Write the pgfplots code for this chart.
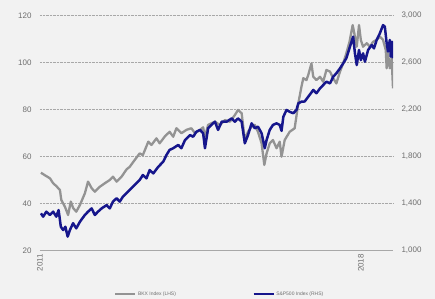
\documentclass[border=0pt]{standalone}
\usepackage{pgfplots}
\pgfplotsset{compat=1.18}
\usepackage{pgfplotstable}
\usepackage{fontspec}
\setmainfont{Liberation Sans}
\definecolor{bg}{HTML}{F2F2F2}
\definecolor{bkxc}{HTML}{939393}
\definecolor{spxc}{HTML}{16168C}
\definecolor{lbl}{HTML}{6E6E6E}
\definecolor{grd}{HTML}{A8A8A8}

\pgfplotstableread{
year val
2011.18 53.2
2011.26 52.2
2011.38 50.8
2011.45 48.7
2011.52 47.5
2011.60 45.8
2011.63 41.6
2011.71 38.7
2011.78 35.2
2011.84 40.9
2011.89 38.2
2011.96 36.6
2012.04 39.4
2012.15 44.4
2012.22 49.4
2012.30 46.6
2012.37 45.1
2012.48 47.2
2012.59 48.7
2012.70 50.1
2012.77 51.5
2012.85 49.4
2012.96 51.5
2013.07 54.6
2013.14 55.7
2013.25 58.6
2013.36 61.4
2013.43 60.7
2013.55 66.4
2013.62 65.0
2013.73 67.8
2013.80 65.7
2013.91 68.5
2014.02 70.6
2014.10 68.5
2014.17 72.1
2014.28 70.0
2014.39 71.4
2014.50 72.1
2014.58 70.0
2014.69 71.4
2014.76 72.5
2014.80 68.5
2014.87 73.5
2014.94 74.2
2015.02 74.9
2015.13 73.5
2015.24 75.6
2015.35 74.9
2015.46 77.7
2015.53 79.9
2015.61 78.5
2015.68 67.1
2015.75 70.6
2015.83 72.8
2015.90 73.5
2015.97 70.6
2016.05 65.7
2016.11 56.5
2016.16 61.4
2016.23 65.7
2016.30 67.1
2016.38 63.6
2016.45 66.4
2016.49 60.0
2016.56 67.1
2016.67 70.6
2016.78 72.1
2016.86 82.7
2016.93 89.8
2016.97 93.4
2017.04 92.6
2017.08 94.8
2017.15 99.7
2017.19 94.0
2017.26 92.6
2017.34 94.0
2017.41 91.9
2017.48 96.9
2017.56 96.2
2017.63 93.4
2017.70 91.2
2017.78 96.2
2017.85 99.7
2017.92 104.0
2017.99 108.9
2018.06 116.0
2018.11 111.1
2018.15 106.8
2018.20 116.0
2018.24 109.7
2018.29 106.8
2018.37 108.3
2018.44 106.8
2018.51 108.9
2018.59 109.7
2018.66 111.1
2018.73 109.7
2018.79 105.4
2018.81 97.6
2018.84 104.0
2018.88 97.6
2018.92 101.9
2018.95 89.1
}\bkxdata

\pgfplotstableread{
year val
2011.18 1318
2011.23 1290
2011.30 1332
2011.38 1304
2011.45 1332
2011.52 1290
2011.57 1346
2011.62 1204
2011.67 1176
2011.72 1204
2011.77 1120
2011.82 1176
2011.89 1234
2011.96 1190
2012.04 1246
2012.15 1304
2012.22 1332
2012.30 1360
2012.37 1304
2012.44 1332
2012.52 1360
2012.63 1388
2012.70 1360
2012.77 1418
2012.85 1446
2012.92 1418
2012.99 1460
2013.10 1502
2013.25 1560
2013.36 1602
2013.43 1644
2013.51 1616
2013.58 1686
2013.66 1658
2013.77 1714
2013.88 1758
2013.95 1814
2014.02 1858
2014.10 1872
2014.21 1900
2014.28 1872
2014.36 1942
2014.47 1984
2014.54 1970
2014.61 2012
2014.69 2028
2014.76 2000
2014.80 1872
2014.87 2042
2014.94 2070
2015.02 2098
2015.09 2028
2015.17 2098
2015.28 2098
2015.39 2126
2015.46 2098
2015.53 2126
2015.61 2098
2015.68 1914
2015.75 1984
2015.83 2084
2015.90 2042
2015.97 2056
2016.05 2000
2016.12 1872
2016.16 1942
2016.23 2028
2016.30 2070
2016.38 2084
2016.45 2070
2016.49 2020
2016.53 2140
2016.60 2198
2016.67 2182
2016.75 2170
2016.82 2198
2016.86 2254
2016.93 2268
2017.00 2270
2017.11 2326
2017.19 2368
2017.26 2340
2017.34 2382
2017.41 2410
2017.48 2438
2017.56 2424
2017.63 2480
2017.70 2510
2017.78 2552
2017.85 2594
2017.92 2638
2018.00 2736
2018.07 2822
2018.11 2680
2018.15 2580
2018.20 2708
2018.24 2622
2018.29 2680
2018.33 2608
2018.40 2708
2018.48 2750
2018.53 2722
2018.59 2794
2018.66 2850
2018.73 2920
2018.77 2906
2018.81 2766
2018.84 2694
2018.88 2794
2018.90 2652
2018.93 2778
2018.95 2638
}\spxdata

\pgfplotsset{
  commonax/.style={
    at={(40bp,48.3bp)}, anchor=south west,
    scale only axis, width=353bp, height=235bp,
    xmin=2011.16, xmax=2018.95,
    axis line style={draw=none},
    major tick length=0pt,
    tick label style={font=\fontsize{8}{9}\selectfont, text=lbl},
    /pgf/number format/assume math mode=true,
    scaled ticks=false,
  }
}

\begin{document}
\begin{tikzpicture}
\fill[bg] (0bp,0bp) rectangle (435bp,299bp);
\useasboundingbox (0bp,0bp) rectangle (435bp,299bp);
\begin{axis}[commonax,
  ymin=20, ymax=120,
  xtick={2011.16,2018.24}, xticklabels={2011,2018},
  xticklabel style={rotate=90, anchor=east},
  ytick={40,60,80,100,120},
  extra y ticks={20},
  extra y tick style={grid style={solid, grd, line width=0.9bp}},
  ymajorgrids,
  grid style={densely dotted, grd, line width=0.9bp},
  yticklabel style={xshift=-5bp},
]
\addplot[bkxc, line width=2.3bp, line join=round, no markers] table[x=year, y=val] {\bkxdata};
\end{axis}
\begin{axis}[commonax,
  ymin=1000, ymax=3000,
  xtick=\empty,
  ytick={1000,1400,1800,2200,2600,3000},
  yticklabel pos=right,
  yticklabel style={xshift=5bp},
  legend columns=2,
  legend style={at={(0.51,-0.184)}, anchor=center, draw=none, fill=none,
    font=\fontsize{5}{6}\selectfont, text=lbl,
    /tikz/every even column/.append style={column sep=75bp}},
  legend image code/.code={\draw[#1, line width=1.3bp] (0bp,0bp) -- (20bp,0bp);},
]
\addlegendimage{bkxc}
\addlegendentry{BKX Index (LHS)}
\addplot[spxc, line width=2.5bp, line join=round, no markers] table[x=year, y=val] {\spxdata};
\addlegendentry{S\&P500 Index (RHS)}
\end{axis}
\end{tikzpicture}
\end{document}
